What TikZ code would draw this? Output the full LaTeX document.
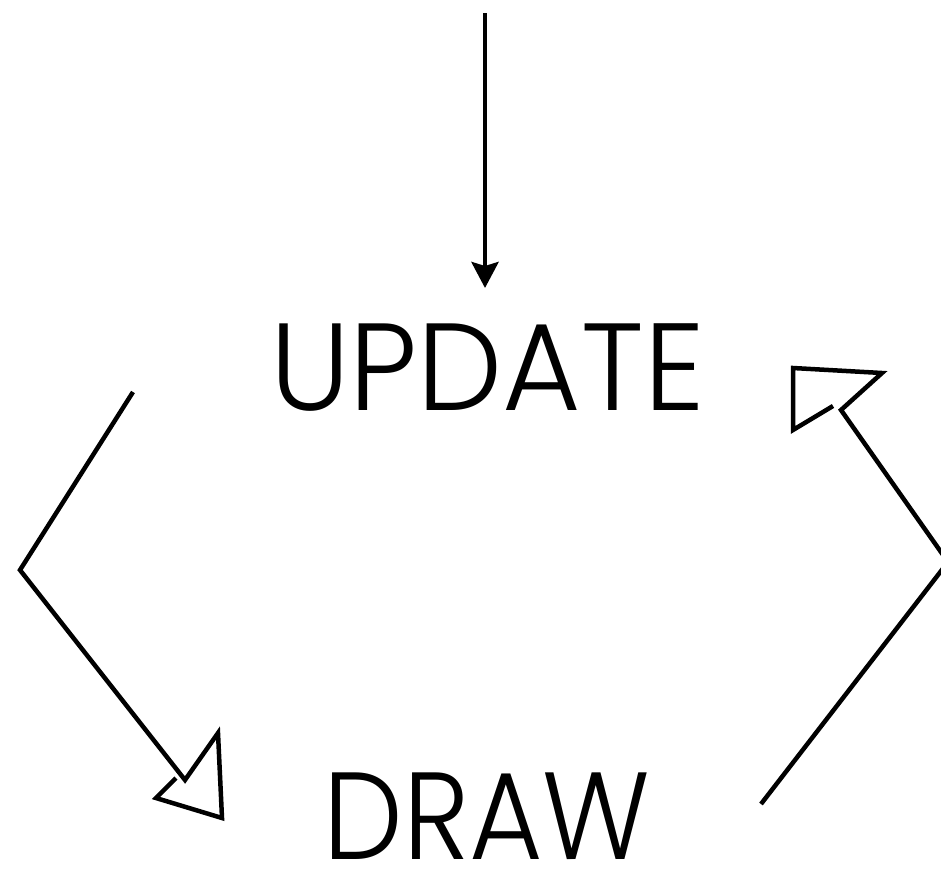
\documentclass[tikz,border=0pt]{standalone}
\usepackage{fontspec}
\usepackage{graphicx}
\setmainfont{Poppins Light}
\usetikzlibrary{arrows.meta}
\tikzset{
  lbl/.style={inner sep=0pt, anchor=base, text depth=0pt, font=\fontsize{124}{124}\selectfont},
  wire/.style={line width=4.5pt, line join=miter, miter limit=20, line cap=butt},
}
\begin{document}
\begin{tikzpicture}[x=1pt,y=-1pt]
\useasboundingbox (0,0) rectangle (941,873);
\clip (0,0) rectangle (941,873);
\node[lbl] (update) at (487.5,410) {\scalebox{0.972}[1]{UPDATE}};
\node[lbl] (draw) at (487,859) {\scalebox{0.91}[1]{DRAW}};
% top input arrow
\coordinate (in) at (485,13);
\coordinate (intip) at (485,288);
\draw[wire, -{Stealth[length=26pt,width=27pt,inset=4pt]}] (in) -- (intip);
% left connector: update -> draw
\coordinate (ls) at (133,392);
\coordinate (lc) at (20,570);
\coordinate (lp) at (185,780);
\coordinate (lb) at (218,733);
\coordinate (lt) at (222,818);
\coordinate (la) at (156,798);
\coordinate (lq) at (176,778);
\draw[wire] (ls) -- (lc) -- (lp) -- (lb) -- (lt) -- (la) -- (lq);
% right connector: draw -> update
\coordinate (rs) at (761,804);
\coordinate (rc) at (948,562);
\coordinate (rp) at (841,410);
\coordinate (rtr) at (882,373);
\coordinate (rtl) at (793,368);
\coordinate (rbl) at (793,430);
\coordinate (rq) at (833,406);
\draw[wire] (rs) -- (rc) -- (rp) -- (rtr) -- (rtl) -- (rbl) -- (rq);
\end{tikzpicture}
\end{document}
